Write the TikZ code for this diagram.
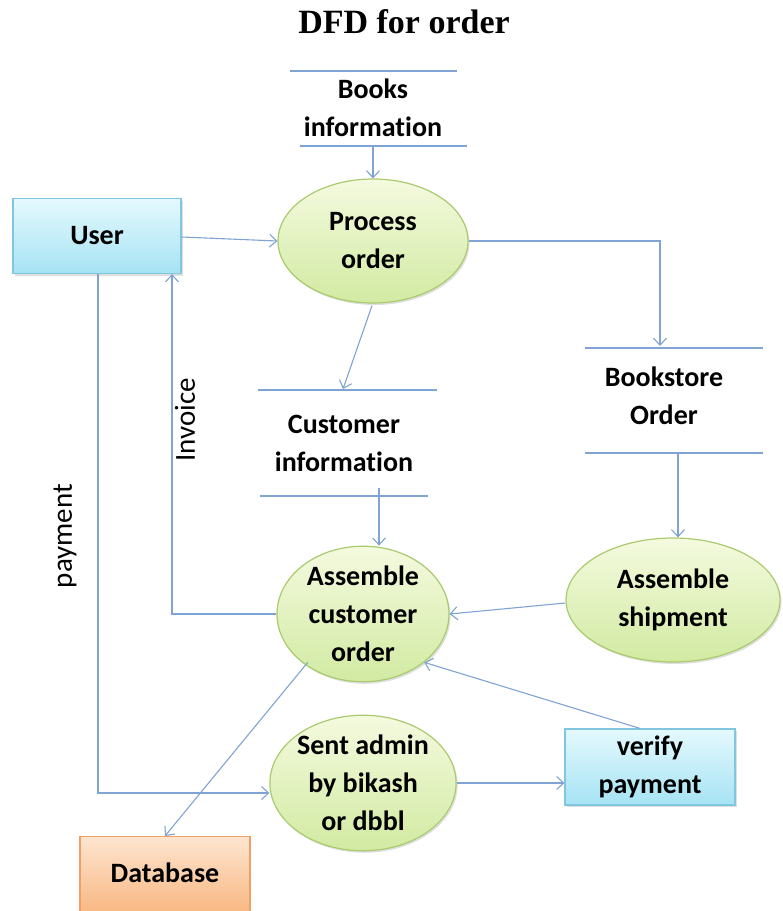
\documentclass[tikz,border=0pt]{standalone}
\usepackage{fontspec}
\setmainfont{Carlito}[Ligatures=NoCommon]
\newfontfamily\titlefont{Liberation Serif}
\usetikzlibrary{shapes.geometric,arrows.meta,shadows}
\definecolor{flow}{HTML}{7FA3D3}
\definecolor{elTop}{HTML}{F4FADF}
\definecolor{elBot}{HTML}{D2EAA2}
\definecolor{elLine}{HTML}{A9CB6E}
\definecolor{bxTop}{HTML}{E4F9FD}
\definecolor{bxBot}{HTML}{A6E3F4}
\definecolor{bxLine}{HTML}{7FC6DE}
\definecolor{dbTop}{HTML}{FDE5D0}
\definecolor{dbBot}{HTML}{F8B57E}
\definecolor{dbLine}{HTML}{EFA062}
\tikzset{
  txt/.style={font=\bfseries\fontsize{28}{38}\selectfont, align=center},
  proc/.style={ellipse, draw=elLine, line width=1.2pt, top color=elTop, bottom color=elBot,
     drop shadow={opacity=0.25, shadow xshift=1.5pt, shadow yshift=-2pt}, txt},
  entity/.style={rectangle, draw=bxLine, line width=1.2pt, top color=bxTop, bottom color=bxBot,
     drop shadow={opacity=0.25, shadow xshift=1.5pt, shadow yshift=-2pt}, txt},
  dbbox/.style={rectangle, draw=dbLine, line width=1.2pt, top color=dbTop, bottom color=dbBot, txt},
  storeline/.style={draw=flow, line width=1.2pt},
  flowline/.style={draw=flow, line width=1.1pt, -{Straight Barb[length=7pt,width=13pt]}},
  lbl/.style={font=\fontsize{29}{32}\selectfont}
}
\begin{document}
\begin{tikzpicture}[x=1pt,y=-1pt]
\useasboundingbox (0,0) rectangle (783,911);
% title
\node[font=\titlefont\bfseries\fontsize{34}{36}\selectfont] (title) at (404,22) {DFD for order};

% Books information store
\coordinate (bTopL) at (290,71); \coordinate (bTopR) at (457,71);
\coordinate (bBotL) at (300,146); \coordinate (bBotR) at (467,146);
\draw[storeline] (bTopL) -- (bTopR);
\draw[storeline] (bBotL) -- (bBotR);
\node[txt] (books) at (373,108) {Books\\information};
\coordinate (bOut) at (373,146);

% Process order
\node[proc, minimum width=190pt, minimum height=124pt, inner sep=0pt] (proc) at (373,241) {Process\\order};

% User
\node[entity, minimum width=168pt, minimum height=75pt] (user) at (97,236) {User};

% Bookstore Order store
\coordinate (sTopL) at (585,348); \coordinate (sTopR) at (763,348);
\coordinate (sBotL) at (585,453); \coordinate (sBotR) at (763,453);
\draw[storeline] (sTopL) -- (sTopR);
\draw[storeline] (sBotL) -- (sBotR);
\node[txt] (bso) at (664,396) {Bookstore\\Order};
\coordinate (sIn) at (660,346);
\coordinate (sOut) at (678,453);

% Customer information store
\coordinate (cTopL) at (258,390); \coordinate (cTopR) at (437,390);
\coordinate (cBotL) at (260,496); \coordinate (cBotR) at (428,496);
\draw[storeline] (cTopL) -- (cTopR);
\draw[storeline] (cBotL) -- (cBotR);
\node[txt] (cinfo) at (344,443) {Customer\\information};
\coordinate (cIn) at (343,389);
\coordinate (cOut) at (379,488);

% Assemble customer order
\node[proc, minimum width=172pt, minimum height=132pt, inner sep=0pt] (aco) at (363,614) {Assemble\\customer\\order};

% Assemble shipment
\node[proc, minimum width=214pt, minimum height=124pt, inner sep=0pt] (ash) at (673,600) {Assemble\\shipment};

% Sent admin
\node[proc, minimum width=172pt, minimum height=128pt, inner sep=0pt] (sent) at (363,783) {Sent admin\\by bikash\\or dbbl};

% verify payment
\node[entity, minimum width=170pt, minimum height=76pt] (verify) at (650,767) {verify\\payment};

% Database
\node[dbbox, minimum width=170pt, minimum height=80pt, anchor=north] (db) at (165,836) {};
\node[txt] (dbtext) at (165,873) {Database};

% flows
\draw[flowline] (bOut) -- (proc.north);
\draw[flowline] (user.east |- 0,237) -- (proc.west);
\draw[flowline] (proc.east) -- (sIn |- proc.east) -- (sIn);
\draw[flowline] (sOut) -- (ash.north -| sOut);
\draw[flowline] (proc.south) ++(-1,2) -- (cIn);
\draw[flowline] (cOut) -- (aco.north -| cOut);
\draw[flowline] (ash.west) ++(0,3) -- (aco.east);
\draw[flowline] (aco.west) -- (172,614) -- (user.south -| 172,0);
\node[lbl, rotate=90] (inv) at (185,420) {Invoice};
\draw[flowline] (user.south -| 98,0) -- (98,793) -- (sent.west |- 0,793);
\node[lbl, rotate=90] (pay) at (65,536) {payment};
\draw[flowline] (aco.south west) ++(6,0) -- (db.north);
\draw[flowline] (sent.east) -- (verify.west |- sent.east);
\draw[flowline] (verify.north) ++(-10,0) -- (aco.south east);
\end{tikzpicture}
\end{document}
